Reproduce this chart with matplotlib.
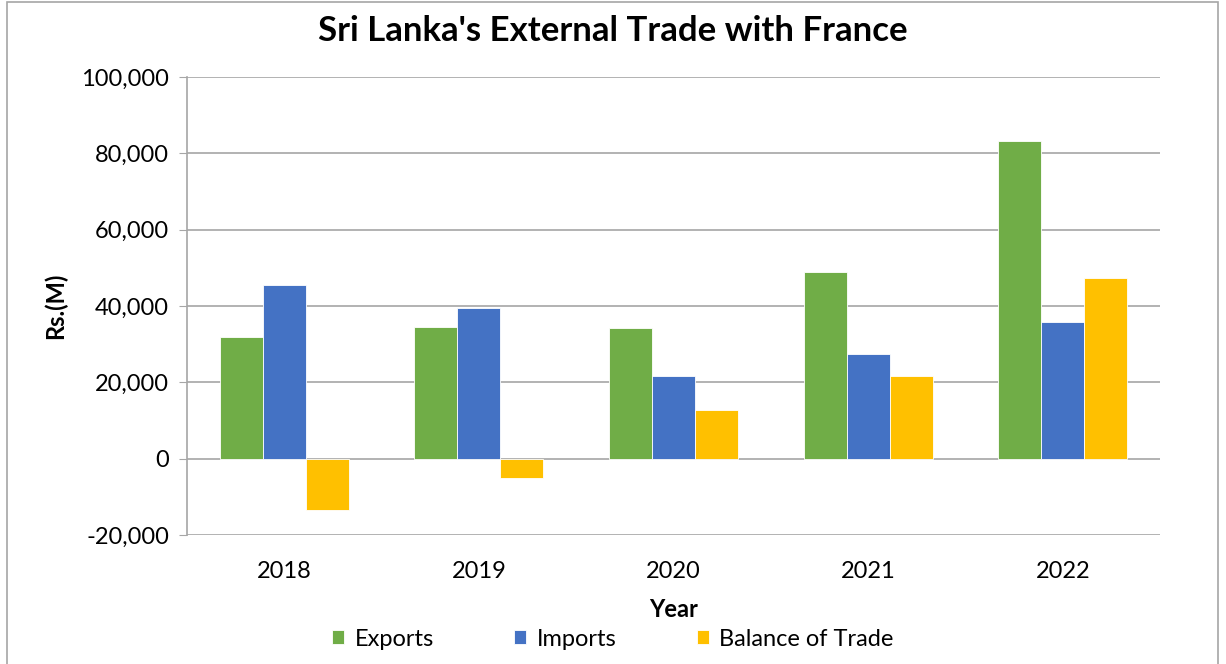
import numpy as np
import matplotlib.pyplot as plt
from matplotlib.patches import Rectangle
from matplotlib.ticker import FuncFormatter

plt.rcParams['font.family'] = ['Lato', 'DejaVu Sans']

years = ["2018", "2019", "2020", "2021", "2022"]
exports = [32000, 34600, 34300, 49000, 83200]
imports = [45500, 39500, 21700, 27500, 35900]
balance = [-13500, -5000, 12800, 21700, 47400]

series = [("Exports", exports, "#70AD47"),
          ("Imports", imports, "#4472C4"),
          ("Balance of Trade", balance, "#FFC000")]

fig = plt.figure(figsize=(12.26, 6.64), dpi=100)
ax = fig.add_axes([187 / 1226, 1 - 535 / 664, 973 / 1226, 458 / 664])

# outer chart border
fig.patches.append(Rectangle((7 / 1226, -0.01), 1211 / 1226, 1.0 - 2 / 664 + 0.01,
                             transform=fig.transFigure, fill=False,
                             edgecolor="#A6A6A6", linewidth=1.2))

x = np.arange(len(years))
w = 0.221
for i, (name, vals, col) in enumerate(series):
    ax.bar(x + (i - 1) * w, vals, w, color=col, edgecolor="white",
           linewidth=0.6, label=name, zorder=3)

ax.set_xlim(-0.5, len(years) - 0.5)
ax.set_ylim(-20000, 100000)
ax.set_yticks(np.arange(-20000, 100001, 20000))
ax.yaxis.set_major_formatter(FuncFormatter(lambda v, p: f"{int(v):,}"))
ax.set_xticks(x)
ax.set_xticklabels(years)

ax.grid(axis="y", color="#A6A6A6", linewidth=1.2, zorder=0)
for s in ["top", "right", "bottom"]:
    ax.spines[s].set_visible(False)
ax.spines["left"].set_color("#A6A6A6")
ax.spines["left"].set_linewidth(1.2)
ax.tick_params(axis="y", length=6, color="#A6A6A6", labelsize=17, pad=7)
ax.tick_params(axis="x", length=0, labelsize=17, pad=19)

ax.set_ylabel("Rs.(M)", fontsize=17, fontweight="bold", labelpad=10)
ax.set_xlabel("Year", fontsize=17, fontweight="bold", labelpad=11)
fig.text(0.5, 1 - 31 / 664, "Sri Lanka's External Trade with France",
         ha="center", va="center", fontsize=25, fontweight="bold")

fig.legend(loc="center", bbox_to_anchor=(0.5, 1 - 639 / 664), ncol=3,
           frameon=False, fontsize=17, handlelength=0.5, handleheight=0.5,
           columnspacing=3.4, handletextpad=0.45)

fig.savefig("out.png", dpi=100)
